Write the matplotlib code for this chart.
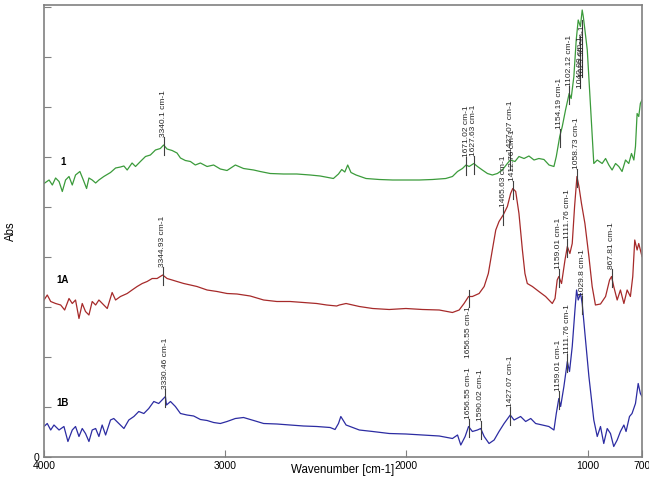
import matplotlib
matplotlib.use('Agg')
import matplotlib.pyplot as plt
import numpy as np

plt.rcParams['font.family'] = ['Liberation Sans', 'DejaVu Sans']

# Spectrum "1" (green)
wn_1 = [4000, 3972, 3954, 3936, 3917, 3899, 3881, 3862, 3844, 3826, 3802, 3783, 3765, 3752,
        3734, 3715, 3697, 3670, 3633, 3605, 3578, 3559, 3541, 3514, 3495, 3468, 3440, 3413,
        3385, 3358, 3340, 3321, 3293, 3266, 3247, 3220, 3192, 3165, 3137, 3100, 3064, 3027,
        2990, 2944, 2899, 2843, 2807, 2752, 2678, 2605, 2531, 2476, 2403, 2375, 2357, 2340,
        2324, 2306, 2278, 2223, 2150, 2076, 2003, 1929, 1856, 1783, 1746, 1718, 1691, 1671,
        1654, 1628, 1608, 1581, 1553, 1526, 1498, 1471, 1443, 1427, 1401, 1379, 1351, 1324,
        1296, 1269, 1241, 1213, 1186, 1173, 1154, 1140, 1122, 1102, 1091, 1076, 1063, 1052,
        1040, 1030, 1024, 1015, 1002, 984, 966, 947, 920, 901, 883, 865, 846, 828, 810, 791,
        773, 758, 745, 736, 727, 718, 709, 700]
abs_1 = [5.47, 5.54, 5.44, 5.58, 5.51, 5.31, 5.54, 5.61, 5.44, 5.64, 5.71, 5.54, 5.37, 5.58,
         5.54, 5.48, 5.54, 5.61, 5.69, 5.78, 5.80, 5.82, 5.74, 5.88, 5.81, 5.91, 6.01, 6.04,
         6.14, 6.17, 6.24, 6.16, 6.13, 6.08, 5.98, 5.93, 5.91, 5.84, 5.88, 5.81, 5.84, 5.76,
         5.73, 5.84, 5.77, 5.74, 5.71, 5.67, 5.66, 5.66, 5.64, 5.62, 5.57, 5.66, 5.75, 5.70,
         5.84, 5.69, 5.64, 5.57, 5.55, 5.54, 5.54, 5.54, 5.55, 5.57, 5.61, 5.71, 5.77, 5.84,
         5.81, 5.87, 5.81, 5.74, 5.67, 5.64, 5.67, 5.74, 5.87, 5.94, 5.91, 6.01, 5.97, 6.02,
         5.94, 5.97, 5.95, 5.84, 5.81, 6.01, 6.41, 6.61, 6.94, 7.27, 7.17, 7.61, 8.34, 8.74,
         8.61, 8.94, 8.81, 8.54, 8.14, 7.01, 5.87, 5.94, 5.87, 5.97, 5.84, 5.74, 5.87, 5.81,
         5.71, 5.94, 5.87, 6.07, 5.94, 6.21, 6.87, 6.81, 7.07, 7.14]

# Spectrum "1A" (red)
wn_1a = [4000, 3982, 3963, 3936, 3908, 3886, 3862, 3844, 3826, 3807, 3789, 3771, 3752, 3734,
         3715, 3697, 3670, 3651, 3624, 3605, 3578, 3541, 3514, 3486, 3458, 3431, 3403, 3376,
         3345, 3321, 3293, 3266, 3229, 3192, 3156, 3100, 3045, 2990, 2935, 2862, 2788, 2715,
         2642, 2568, 2495, 2440, 2385, 2370, 2333, 2260, 2186, 2095, 2003, 1911, 1819, 1746,
         1709, 1682, 1657, 1636, 1599, 1571, 1548, 1526, 1507, 1489, 1466, 1443, 1425, 1413,
         1397, 1379, 1360, 1346, 1333, 1305, 1269, 1232, 1195, 1180, 1168, 1159, 1144, 1125,
         1112, 1098, 1085, 1072, 1059, 1048, 1034, 1015, 993, 975, 957, 929, 901, 879, 868,
         856, 837, 819, 800, 782, 764, 751, 740, 727, 718, 700]
abs_1a = [3.14, 3.24, 3.11, 3.07, 3.04, 2.94, 3.17, 3.07, 3.14, 2.77, 3.07, 2.91, 2.84, 3.11,
          3.04, 3.14, 3.04, 2.97, 3.29, 3.14, 3.21, 3.27, 3.34, 3.41, 3.47, 3.51, 3.57, 3.57,
          3.64, 3.57, 3.54, 3.51, 3.47, 3.44, 3.41, 3.34, 3.31, 3.27, 3.26, 3.22, 3.14, 3.11,
          3.11, 3.09, 3.07, 3.04, 3.02, 3.04, 3.07, 3.01, 2.97, 2.95, 2.97, 2.95, 2.94, 2.89,
          2.94, 3.07, 3.21, 3.21, 3.27, 3.41, 3.67, 4.14, 4.54, 4.71, 4.84, 5.01, 5.27, 5.37,
          5.31, 4.87, 4.14, 3.67, 3.47, 3.41, 3.31, 3.21, 3.07, 3.17, 3.54, 3.61, 3.47, 3.94,
          4.21, 4.07, 4.27, 5.01, 5.61, 5.41, 5.07, 4.67, 4.01, 3.41, 3.04, 3.06, 3.21, 3.54,
          3.61, 3.41, 3.14, 3.34, 3.07, 3.34, 3.21, 3.61, 4.34, 4.14, 4.27, 4.01]

# Spectrum "1B" (blue)
wn_1b = [4000, 3982, 3963, 3945, 3917, 3890, 3868, 3844, 3826, 3807, 3789, 3771, 3752, 3734,
         3715, 3697, 3679, 3660, 3633, 3615, 3587, 3559, 3532, 3504, 3477, 3449, 3422, 3394,
         3367, 3330, 3324, 3302, 3275, 3247, 3211, 3174, 3137, 3100, 3064, 3027, 2990, 2944,
         2899, 2843, 2788, 2715, 2642, 2568, 2495, 2421, 2394, 2375, 2362, 2333, 2260, 2186,
         2095, 2003, 1911, 1819, 1746, 1718, 1700, 1676, 1657, 1636, 1608, 1590, 1571, 1544,
         1516, 1489, 1461, 1427, 1406, 1370, 1342, 1314, 1287, 1250, 1214, 1186, 1173, 1159,
         1149, 1131, 1112, 1100, 1085, 1070, 1061, 1052, 1039, 1030, 1015, 993, 966, 947, 929,
         911, 892, 874, 856, 837, 819, 800, 788, 769, 755, 736, 721, 709, 700]
abs_1b = [0.61, 0.67, 0.54, 0.64, 0.54, 0.61, 0.31, 0.54, 0.61, 0.41, 0.57, 0.47, 0.31, 0.54,
          0.57, 0.41, 0.64, 0.44, 0.74, 0.77, 0.67, 0.57, 0.74, 0.81, 0.91, 0.87, 0.97, 1.11,
          1.07, 1.21, 1.04, 1.11, 1.01, 0.87, 0.84, 0.82, 0.75, 0.73, 0.69, 0.67, 0.71, 0.77,
          0.79, 0.73, 0.67, 0.66, 0.64, 0.62, 0.61, 0.59, 0.55, 0.67, 0.81, 0.64, 0.54, 0.51,
          0.47, 0.46, 0.44, 0.42, 0.37, 0.44, 0.24, 0.41, 0.61, 0.51, 0.54, 0.57, 0.41, 0.27,
          0.34, 0.51, 0.67, 0.84, 0.74, 0.81, 0.71, 0.77, 0.67, 0.64, 0.61, 0.54, 0.87, 1.17,
          1.01, 1.41, 1.91, 1.71, 2.21, 2.94, 3.34, 3.14, 3.27, 3.07, 2.47, 1.61, 0.74, 0.41,
          0.61, 0.27, 0.57, 0.47, 0.21, 0.34, 0.51, 0.64, 0.51, 0.81, 0.87, 1.07, 1.47, 1.27,
          1.21]

# Peak picks: (wavenumber, label); labels drawn above the trace unless listed as below
peaks_1 = [(3340.1, '3340.1 cm-1'), (1671.02, '1671.02 cm-1'), (1627.63, '1627.63 cm-1'),
           (1427.07, '1427.07 cm-1'), (1154.19, '1154.19 cm-1'), (1102.12, '1102.12 cm-1')]
peaks_1a = [(3344.93, '3344.93 cm-1'), (1465.63, '1465.63 cm-1'), (1412.76, '1412.76 cm-1'),
            (1159.01, '1159.01 cm-1'), (1111.76, '1111.76 cm-1'), (1058.73, '1058.73 cm-1'),
            (867.81, '867.81 cm-1')]
peaks_1a_below = [(1656.55, '1656.55 cm-1')]
peaks_1b = [(3330.46, '3330.46 cm-1'), (1656.55, '1656.55 cm-1'), (1590.02, '1590.02 cm-1'),
            (1427.07, '1427.07 cm-1'), (1159.01, '1159.01 cm-1'), (1111.76, '1111.76 cm-1'),
            (1029.8, '1029.8 cm-1')]
# crowded picks on the main band of "1", text set at a fixed height
peaks_1_top = [(1040.09, '1040.09 cm-1', 7.38), (1029.98, '1029.98 cm-1', 7.6)]

series = [
    ('1', wn_1, abs_1, '#3b9b3b', 5.9),
    ('1A', wn_1a, abs_1a, '#a62a2a', 3.54),
    ('1B', wn_1b, abs_1b, '#2c2ca2', 1.08),
]

fig = plt.figure(figsize=(6.49, 4.92), dpi=100)
ax = fig.add_axes([44 / 649, 35 / 492, 598 / 649, 452 / 492])

for name, wn, ab, color, label_y in series:
    ax.plot(wn, ab, color=color, lw=0.9)
    ax.text(3895, label_y, name, fontsize=7, fontweight='bold', ha='center', va='center')


def curve_at(wn, ab, x):
    return np.interp(x, wn[::-1], ab[::-1])


def mark(x, y, text, below=False, base=None):
    if below:
        ax.plot([x, x], [y + 0.14, y - 0.2], color='#404040', lw=0.8)
        ax.text(x, y - 0.2, text, rotation=90, fontsize=6, color='#262626',
                ha='center', va='top')
    else:
        top = y + 0.16 if base is None else base
        ax.plot([x, x], [y - 0.2, top], color='#404040', lw=0.8)
        ax.text(x, top, text, rotation=90, fontsize=6, color='#262626',
                ha='center', va='bottom')


for x, t in peaks_1:
    mark(x, curve_at(wn_1, abs_1, x), t)
for x, t, b in peaks_1_top:
    mark(x, curve_at(wn_1, abs_1, x), t, base=b)
for x, t in peaks_1a:
    mark(x, curve_at(wn_1a, abs_1a, x), t)
for x, t in peaks_1a_below:
    mark(x, curve_at(wn_1a, abs_1a, x), t, below=True)
for x, t in peaks_1b:
    mark(x, curve_at(wn_1b, abs_1b, x), t)

ax.set_xlim(4000, 700)
ax.set_ylim(0, 9.04)
ax.set_xticks([4000, 3000, 2000, 1000, 700])
ax.set_xticklabels(['4000', '3000', '2000', '1000', '700'])
ax.set_yticks(range(10))
ax.set_yticklabels(['0'] + [''] * 9)
ax.tick_params(direction='in', length=5, color='#808080', labelsize=7.5, pad=3)
for sp in ax.spines.values():
    sp.set_color('#808080')
    sp.set_linewidth(1.2)

ax.set_xlabel('Wavenumber [cm-1]', fontsize=8.3)
ax.xaxis.set_label_coords(0.5, -0.016)
ax.set_ylabel('Abs', fontsize=8.3)
ax.yaxis.set_label_coords(-0.046, 0.5)

fig.savefig('out.png', dpi=100)
